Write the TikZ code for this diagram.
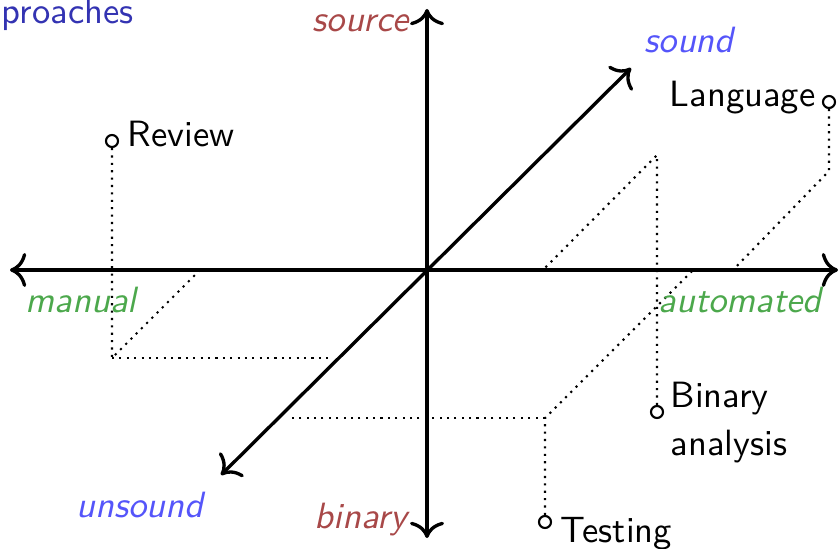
\documentclass[tikz,border=0pt]{standalone}
\usepackage{fontspec}
\usetikzlibrary{arrows.meta}
\definecolor{srccol}{RGB}{168,72,72}
\definecolor{sndcol}{RGB}{85,85,250}
\definecolor{mancol}{RGB}{76,168,76}
\definecolor{titlecol}{RGB}{51,51,178}
\begin{document}
\begin{tikzpicture}[x=0.01cm,y=-0.01cm,
  lbl/.style={font=\sffamily\fontsize{10.4}{13.4}\selectfont, inner sep=0pt, anchor=base west},
  axlbl/.style={font=\sffamily\itshape\fontsize{10.4}{13.4}\selectfont, inner sep=0pt, anchor=base west},
  axisline/.style={line width=0.95pt, {To[scale=1.25]}-{To[scale=1.25]}},
  guide/.style={line width=0.6pt, dash pattern=on 0.6pt off 1.5pt},
  pnt/.style={circle, draw, line width=0.6pt, inner sep=0pt, minimum size=0.12cm, fill=white}]
\useasboundingbox (0,0) rectangle (840,549);
% axes
\coordinate (O) at (427,270);
\coordinate (axL) at (10,270);
\coordinate (axR) at (838,270);
\coordinate (axU) at (427,9);
\coordinate (axD) at (427,538);
\coordinate (axNE) at (631,68);
\coordinate (axSW) at (221,475);
% guide feet
\coordinate (revb) at (112,358);
\coordinate (revx) at (200,270);
\coordinate (revz) at (333,358);
\coordinate (binb) at (657,155);
\coordinate (binx) at (543,270);
\coordinate (tesb) at (545,418);
\coordinate (tesx) at (693,270);
\coordinate (tesz) at (288,418);
\coordinate (lanb) at (829,171);
\coordinate (lanx) at (733,270);
% points
\node[pnt] (rev) at (112,141) {};
\node[pnt] (bin) at (657,412) {};
\node[pnt] (tes) at (545,522) {};
\node[pnt] (lan) at (829,102) {};
% guides
\draw[guide] (rev) -- (revb) -- (revx);
\draw[guide] (revb) -- (revz);
\draw[guide] (bin) -- (binb) -- (binx);
\draw[guide] (tes) -- (tesb) -- (tesx);
\draw[guide] (tesb) -- (tesz);
\draw[guide] (lan) -- (lanb) -- (lanx);
% axes
\draw[axisline] (axL) -- (axR);
\draw[axisline] (axD) -- (axU);
\draw[axisline] (axSW) -- (axNE);
% point labels
\node[lbl] (revt) at (127,147) {Review};
\node[lbl, anchor=base east] (lant) at (816,107) {Language};
\node[lbl, align=left] (bint) at (670,455) {Binary\\analysis};
\node[lbl] (test) at (560,542) {Testing};
% axis labels
\node[axlbl, text=srccol] (src) at (312,32) {source};
\node[axlbl, text=srccol] (bnr) at (314,528) {binary};
\node[axlbl, text=sndcol] (snd) at (644,53) {sound};
\node[axlbl, text=sndcol] (usnd) at (76,517) {unsound};
\node[axlbl, text=mancol] (man) at (25,313) {manual};
\node[axlbl, text=mancol] (aut) at (658,312) {automated};
% title fragment
\node[lbl, text=titlecol] (ttl) at (1,24) {proaches};
\end{tikzpicture}
\end{document}
